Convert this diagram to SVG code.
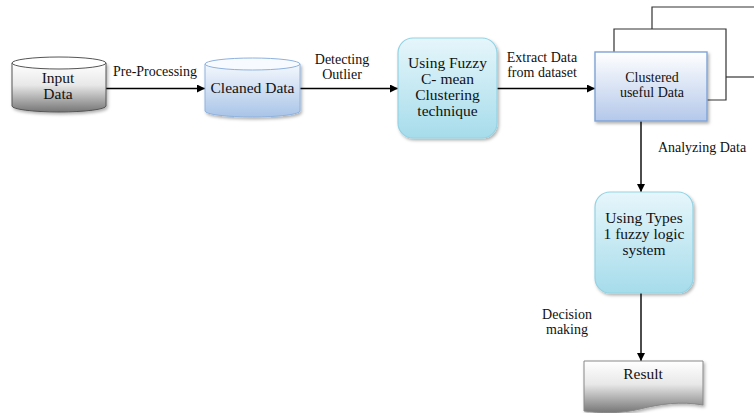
<svg xmlns="http://www.w3.org/2000/svg" width="754" height="413" viewBox="0 0 754 413">
<style>
text{font-family:"Liberation Serif","Times New Roman",serif;fill:#111;text-anchor:middle}
.lbl{font-size:14px}
.nt{font-size:15.5px}
.conn{stroke:#000;stroke-width:1.4;fill:none}
.back{stroke:#333;stroke-width:1.2;fill:none}
</style>
<defs>
<linearGradient id="gGray" x1="0" y1="0" x2="0" y2="1"><stop offset="0" stop-color="#ffffff"/><stop offset="0.45" stop-color="#e8e8e8"/><stop offset="1" stop-color="#767676"/></linearGradient>
<linearGradient id="gBlue" x1="0" y1="0" x2="0" y2="1"><stop offset="0" stop-color="#f4f8fd"/><stop offset="1" stop-color="#a9c4e8"/></linearGradient>
<linearGradient id="gCyan" x1="0" y1="0" x2="0" y2="1"><stop offset="0" stop-color="#e6f6fb"/><stop offset="1" stop-color="#a6dceb"/></linearGradient>
<linearGradient id="gClu" x1="0" y1="0" x2="0" y2="1"><stop offset="0" stop-color="#ffffff"/><stop offset="1" stop-color="#b4c8ea"/></linearGradient>
<filter id="sh" x="-10%" y="-10%" width="125%" height="130%"><feDropShadow dx="1.5" dy="2" stdDeviation="1.5" flood-color="#000" flood-opacity="0.3"/></filter>
<marker id="arr" viewBox="0 0 10 10" refX="10" refY="5" markerWidth="8" markerHeight="8" markerUnits="userSpaceOnUse" orient="auto"><path d="M0,0 L10,5 L0,10 Z" fill="#000"/></marker>
</defs>

<g id="connectors">
<line class="conn" x1="106" y1="88.5" x2="205" y2="88.5" marker-end="url(#arr)"/>
<line class="conn" x1="300" y1="88.5" x2="398" y2="88.5" marker-end="url(#arr)"/>
<line class="conn" x1="497" y1="88.5" x2="595" y2="88.5" marker-end="url(#arr)"/>
<line class="conn" x1="641" y1="121" x2="641" y2="192" marker-end="url(#arr)"/>
<line class="conn" x1="641" y1="293" x2="641" y2="361" marker-end="url(#arr)"/>
<text class="lbl" x="155" y="76">Pre-Processing</text>
<text class="lbl" x="342" y="64">Detecting</text>
<text class="lbl" x="342" y="79">Outlier</text>
<text class="lbl" x="542" y="62">Extract Data</text>
<text class="lbl" x="542" y="77">from dataset</text>
<text class="lbl" x="702" y="152">Analyzing Data</text>
<text class="lbl" x="567" y="319">Decision</text>
<text class="lbl" x="567" y="334">making</text>
</g>

<g id="input-data">
<path d="M12,63 L12,106 A47,6 0 0 0 106,106 L106,63 Z" fill="url(#gGray)" stroke="#555" stroke-width="1" filter="url(#sh)"/>
<ellipse cx="59" cy="63" rx="47" ry="6" fill="#fff" stroke="#555" stroke-width="1"/>
<text class="nt" x="58" y="83">Input</text>
<text class="nt" x="58" y="99">Data</text>
</g>

<g id="cleaned-data">
<path d="M205,64 L205,111 A47.5,6 0 0 0 300,111 L300,64 Z" fill="url(#gBlue)" stroke="#8fb2de" stroke-width="1" filter="url(#sh)"/>
<ellipse cx="252.5" cy="64" rx="47.5" ry="6" fill="#f7faff" stroke="#8fb2de" stroke-width="1"/>
<text class="nt" x="252.5" y="93">Cleaned Data</text>
</g>

<g id="fuzzy-cmean">
<rect x="398" y="38" width="99" height="100" rx="15" fill="url(#gCyan)" stroke="#93d3e4" stroke-width="1.2" filter="url(#sh)"/>
<text class="nt" x="447.5" y="68">Using Fuzzy</text>
<text class="nt" x="447.5" y="84">C- mean</text>
<text class="nt" x="447.5" y="100">Clustering</text>
<text class="nt" x="447.5" y="116">technique</text>
</g>

<g id="clustered-data">
<path class="back" d="M652,29 L652,7 L754,7"/>
<path class="back" d="M726,77 L754,77"/>
<path class="back" d="M614,52 L614,29 L726,29 L726,100 L707,100"/>
<rect x="595" y="52" width="112" height="69" fill="url(#gClu)" stroke="#7fa3d6" stroke-width="1.4" filter="url(#sh)"/>
<text class="lbl" x="652" y="82">Clustered</text>
<text class="lbl" x="652" y="97">useful Data</text>
</g>

<g id="fuzzy-logic">
<rect x="595" y="192" width="98" height="101" rx="15" fill="url(#gCyan)" stroke="#93d3e4" stroke-width="1.2" filter="url(#sh)"/>
<text class="nt" x="644" y="223">Using Types</text>
<text class="nt" x="644" y="239">1 fuzzy logic</text>
<text class="nt" x="644" y="255">system</text>
</g>

<g id="result">
<path d="M584,361 L703,361 L703,405 C680,401 660,404 640,409 C620,414 600,413 584,411 Z" fill="url(#gGray)" stroke="#888" stroke-width="1" filter="url(#sh)"/>
<text class="nt" x="643" y="379">Result</text>
</g>
</svg>
